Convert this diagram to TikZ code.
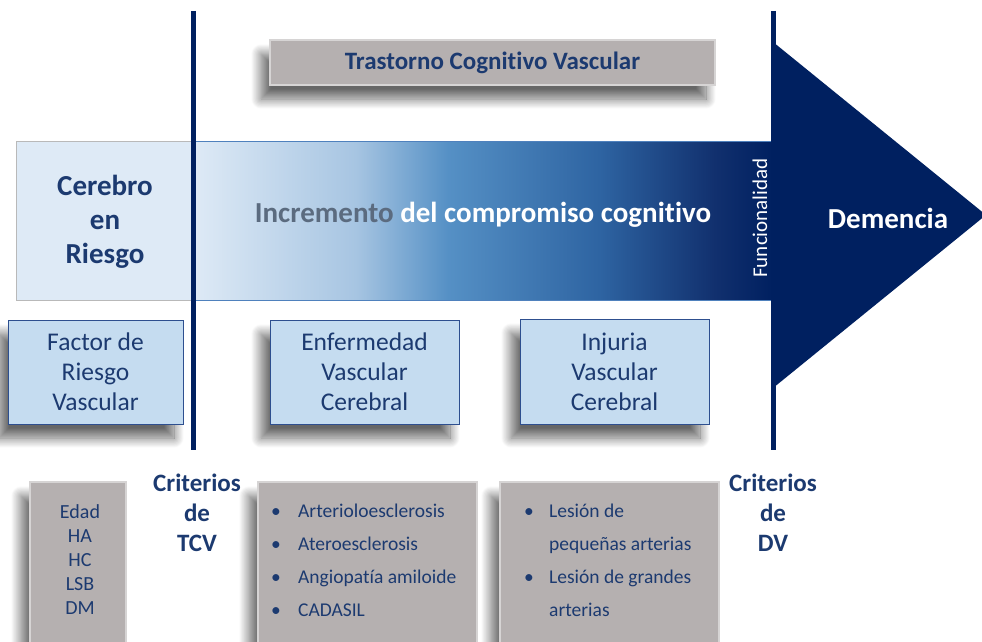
\documentclass[tikz,border=0pt]{standalone}
\usepackage{fontspec}
\setmainfont{Carlito}[Ligatures=NoCommon]
\usetikzlibrary{shadows.blur}
\definecolor{NavyClr}{HTML}{002060}
\definecolor{TextClr}{HTML}{1C3A70}
\definecolor{PaleClr}{HTML}{DEEAF6}
\definecolor{BoxClr}{HTML}{C5DCF0}
\definecolor{BoxLineClr}{HTML}{2E4F8F}
\definecolor{GreyClr}{HTML}{B5B0B0}
\definecolor{IncrClr}{HTML}{5B6B7F}
\definecolor{EdgeClr}{HTML}{4F81BD}
\definecolor{GradA}{HTML}{A7C5E2}
\definecolor{GradB}{HTML}{5590C5}
\definecolor{GradC}{HTML}{2E64A2}
\definecolor{GradD}{HTML}{11306E}
\pgfdeclarehorizontalshading{incremento}{100bp}{color(0bp)=(PaleClr); color(25bp)=(PaleClr); color(39bp)=(GradA); color(47bp)=(GradB); color(60bp)=(GradC); color(70bp)=(GradD); color(75bp)=(NavyClr); color(100bp)=(NavyClr)}

\begin{document}
\begin{tikzpicture}[x=1pt,y=-1pt,
  shadowed/.style={blur shadow={shadow xshift=-9pt,shadow yshift=-14pt,shadow blur radius=10pt,shadow blur steps=16,shadow opacity=60}},
  bluebox/.style={shadowed,draw=BoxLineClr,line width=1pt,fill=BoxClr,inner sep=0pt,align=center,text=TextClr,font=\fontsize{25.5}{30}\selectfont},
  greybox/.style={shadowed,draw=GreyClr!55!white,line width=2pt,fill=GreyClr,inner sep=0pt},
  heading/.style={align=center,text=TextClr,font=\bfseries\fontsize{25}{30}\selectfont},
  listtext/.style={align=left,text=TextClr,inner sep=0pt,anchor=west,font=\fontsize{19.5}{33}\selectfont},
  divider/.style={NavyClr,line width=5pt}]
\clip (0,0) rectangle (982,642);

\coordinate (tcvtop) at (193,11);
\coordinate (tcvbot) at (193,450);
\coordinate (dvtop) at (773,11);
\coordinate (dvbot) at (773,450);

% arrow of the cognitive decline
\fill[PaleClr] (16,141) rectangle (193,300);
\draw[gray!55,line width=1pt] (193,141) -- (16,141) -- (16,300) -- (193,300);
\shade[shading=incremento] (193,141) rectangle (773,300);
\draw[EdgeClr,line width=1pt] (193,141) -- (773,141) (193,300) -- (773,300);
\fill[NavyClr] (773,42) -- (986,215) -- (773,388) -- cycle;

\draw[divider] (tcvtop) -- (tcvbot);
\draw[divider] (dvtop) -- (dvbot);

\node[greybox,minimum width=445,minimum height=45] (tcv) at (492.5,62.5) {};
\node[heading,font=\bfseries\fontsize{25}{30}\selectfont] (tcvtext) at (tcv) {Trastorno Cognitivo Vascular};

\node[heading,font=\bfseries\fontsize{29}{34}\selectfont] (riesgo) at (105,222) {Cerebro\\en\\Riesgo};
\node[font=\bfseries\fontsize{29}{34}\selectfont,text=white] (incremento) at (483,215) {\textcolor{IncrClr}{Incremento} del compromiso cognitivo};
\node[rotate=90,text=white,font=\fontsize{21}{24}\selectfont] (funcion) at (760,218) {Funcionalidad};
\node[text=white,font=\bfseries\fontsize{29}{34}\selectfont] (demencia) at (888,218) {Demencia};

\node[bluebox,minimum width=175,minimum height=104] (frv) at (95.5,372) {Factor de\\Riesgo\\Vascular};
\node[bluebox,minimum width=189,minimum height=104] (evc) at (364.5,372) {Enfermedad\\Vascular\\Cerebral};
\node[bluebox,minimum width=189,minimum height=105] (ivc) at (614.5,371.5) {Injuria\\Vascular\\Cerebral};

\node[greybox,minimum width=96,minimum height=180] (edadbox) at (78,572) {};
\node[greybox,minimum width=219,minimum height=180] (evcbox) at (367.5,572) {};
\node[greybox,minimum width=219,minimum height=180] (ivcbox) at (609.5,572) {};

\node[align=center,text=TextClr,font=\fontsize{20}{24}\selectfont] (edad) at (80,560) {Edad\\HA\\HC\\LSB\\DM};
\node[listtext] (evclist) at (271,560) {\makebox[27pt][l]{\textbullet}Arterioloesclerosis\\\makebox[27pt][l]{\textbullet}Ateroesclerosis\\\makebox[27pt][l]{\textbullet}Angiopatía amiloide\\\makebox[27pt][l]{\textbullet}CADASIL};
\node[listtext] (ivclist) at (524,560) {\makebox[25pt][l]{\textbullet}Lesión de\\\hspace*{25pt}pequeñas arterias\\\makebox[25pt][l]{\textbullet}Lesión de grandes\\\hspace*{25pt}arterias};

\node[heading] (critcv) at (197,513) {Criterios\\de\\TCV};
\node[heading] (critdv) at (773,513) {Criterios\\de\\DV};
\end{tikzpicture}
\end{document}
